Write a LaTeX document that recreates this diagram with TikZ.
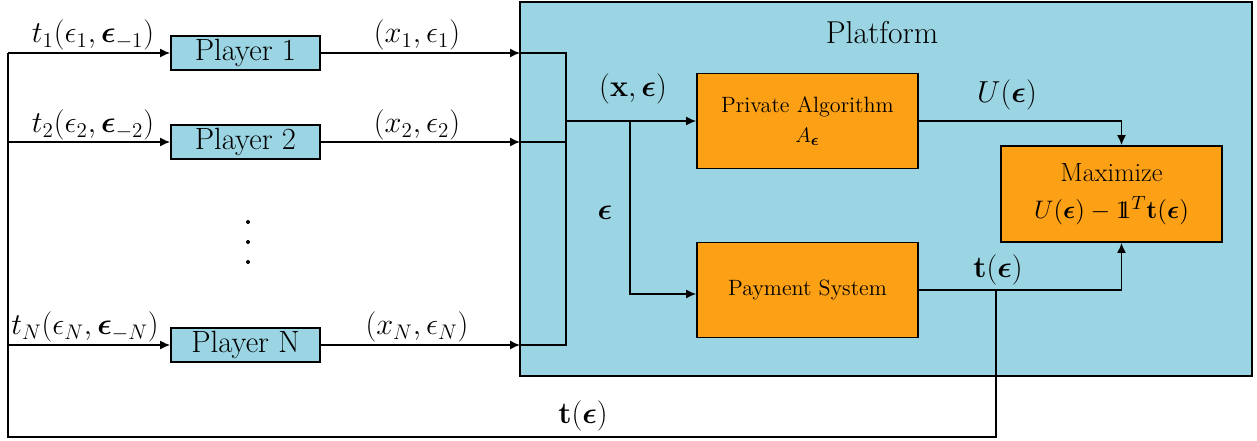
\documentclass[tikz,border=0pt]{standalone}
\usepackage{amsmath,amssymb,bm}
\usetikzlibrary{arrows.meta}
\newcommand{\onevec}{\mathrm{1\mkern-6.5mu1}}
\definecolor{platblue}{RGB}{155,212,226}
\definecolor{boxorange}{RGB}{252,160,22}
\tikzset{
  player/.style={draw,line width=1.1pt,fill=platblue,minimum width=2.98cm,minimum height=0.68cm,inner sep=1pt,font=\fontsize{17.5}{20}\selectfont},
  block/.style={draw,line width=1.1pt,fill=boxorange,minimum width=4.42cm,minimum height=1.9cm,align=center},
  lbl/.style={font=\fontsize{17}{20}\selectfont},
}
\begin{document}
\begin{tikzpicture}[x=0.02cm,y=-0.02cm,>={Latex[length=2mm,width=1.8mm]},line width=0.8pt]
      \useasboundingbox (0,0) rectangle (1257,440);
      % platform area
      \draw[line width=1.1pt,fill=platblue] (520,2) rectangle (1252,376);
      \node[font=\fontsize{18}{21}\selectfont] (plat) at (882,33) {Platform};
      % players
      \node[player] (p1) at (245.5,53) {Player 1};
      \node[player] (p2) at (245.5,142) {Player 2};
      \node[player] (pN) at (245.5,345) {Player N};
      \foreach \y in {222,242,262}
        \fill (248,\y) circle (0.04cm);
      % blocks
      \node[block,font=\fontsize{12.6}{15}\selectfont] (pa) at (807.5,121) {Private Algorithm\\[2pt]$A_{\boldsymbol{\epsilon}}$};
      \node[block,font=\fontsize{12.6}{15}\selectfont] (ps) at (807.5,290) {Payment System};
      \node[block,font=\fontsize{15}{18}\selectfont,minimum height=1.92cm] (mx) at (1111.5,194) {Maximize\\[3pt]$U(\boldsymbol{\epsilon})-\onevec^T\mathbf{t}(\boldsymbol{\epsilon})$};
      % junction points
      \coordinate (l1) at (8,53);
      \coordinate (l2) at (7,142);
      \coordinate (lN) at (8,345);
      \coordinate (lb) at (8,437);
      \coordinate (in1) at (520,53);
      \coordinate (in2) at (520,142);
      \coordinate (inN) at (520,345);
      \coordinate (m1) at (566,53);
      \coordinate (m2) at (566,142);
      \coordinate (mN) at (566,345);
      \coordinate (hx) at (566,121);
      \coordinate (sx) at (630,121);
      \coordinate (sy) at (630,294);
      \coordinate (tj) at (996,290);
      \coordinate (tb) at (996,437);
      % feedback to players
      \draw (tj) -- (tb) -- (lb) -- (l1);
      \draw[->] (l1) -- (p1);
      \draw[->] (l2) -- (p2);
      \draw[->] (lN) -- (pN);
      % players to platform
      \draw[->] (p1) -- (in1);
      \draw[->] (p2) -- (in2);
      \draw[->] (pN) -- (inN);
      \draw (in1) -- (m1) -- (mN) -- (inN);
      \draw (in2) -- (m2);
      \draw[->] (hx) -- (pa);
      \draw[->] (sx) -- (sy) -- (ps.west |- sy);
      \draw[->] (pa.east) -| ([xshift=0.2cm]mx.north);
      \draw[->] (ps.east) -| ([xshift=0.2cm]mx.south);
      % labels
      \node[lbl] (t1) at (93,35) {$t_1(\epsilon_1,\boldsymbol{\epsilon}_{-1})$};
      \node[lbl] (t2) at (93,125) {$t_2(\epsilon_2,\boldsymbol{\epsilon}_{-2})$};
      \node[lbl] (tN) at (85,327) {$t_N(\epsilon_N,\boldsymbol{\epsilon}_{-N})$};
      \node[lbl] (x1) at (417,35) {$(x_1,\epsilon_1)$};
      \node[lbl] (x2) at (417,125) {$(x_2,\epsilon_2)$};
      \node[lbl] (xN) at (417,327) {$(x_N,\epsilon_N)$};
      \node[lbl] (xe) at (633,89) {$(\mathbf{x},\boldsymbol{\epsilon})$};
      \node[lbl] (ee) at (605,213) {$\boldsymbol{\epsilon}$};
      \node[lbl] (ue) at (1007,95) {$U(\boldsymbol{\epsilon})$};
      \node[lbl] (te) at (998,270) {$\mathbf{t}(\boldsymbol{\epsilon})$};
      \node[lbl] (tf) at (583,416) {$\mathbf{t}(\boldsymbol{\epsilon})$};
    \end{tikzpicture}
\end{document}
